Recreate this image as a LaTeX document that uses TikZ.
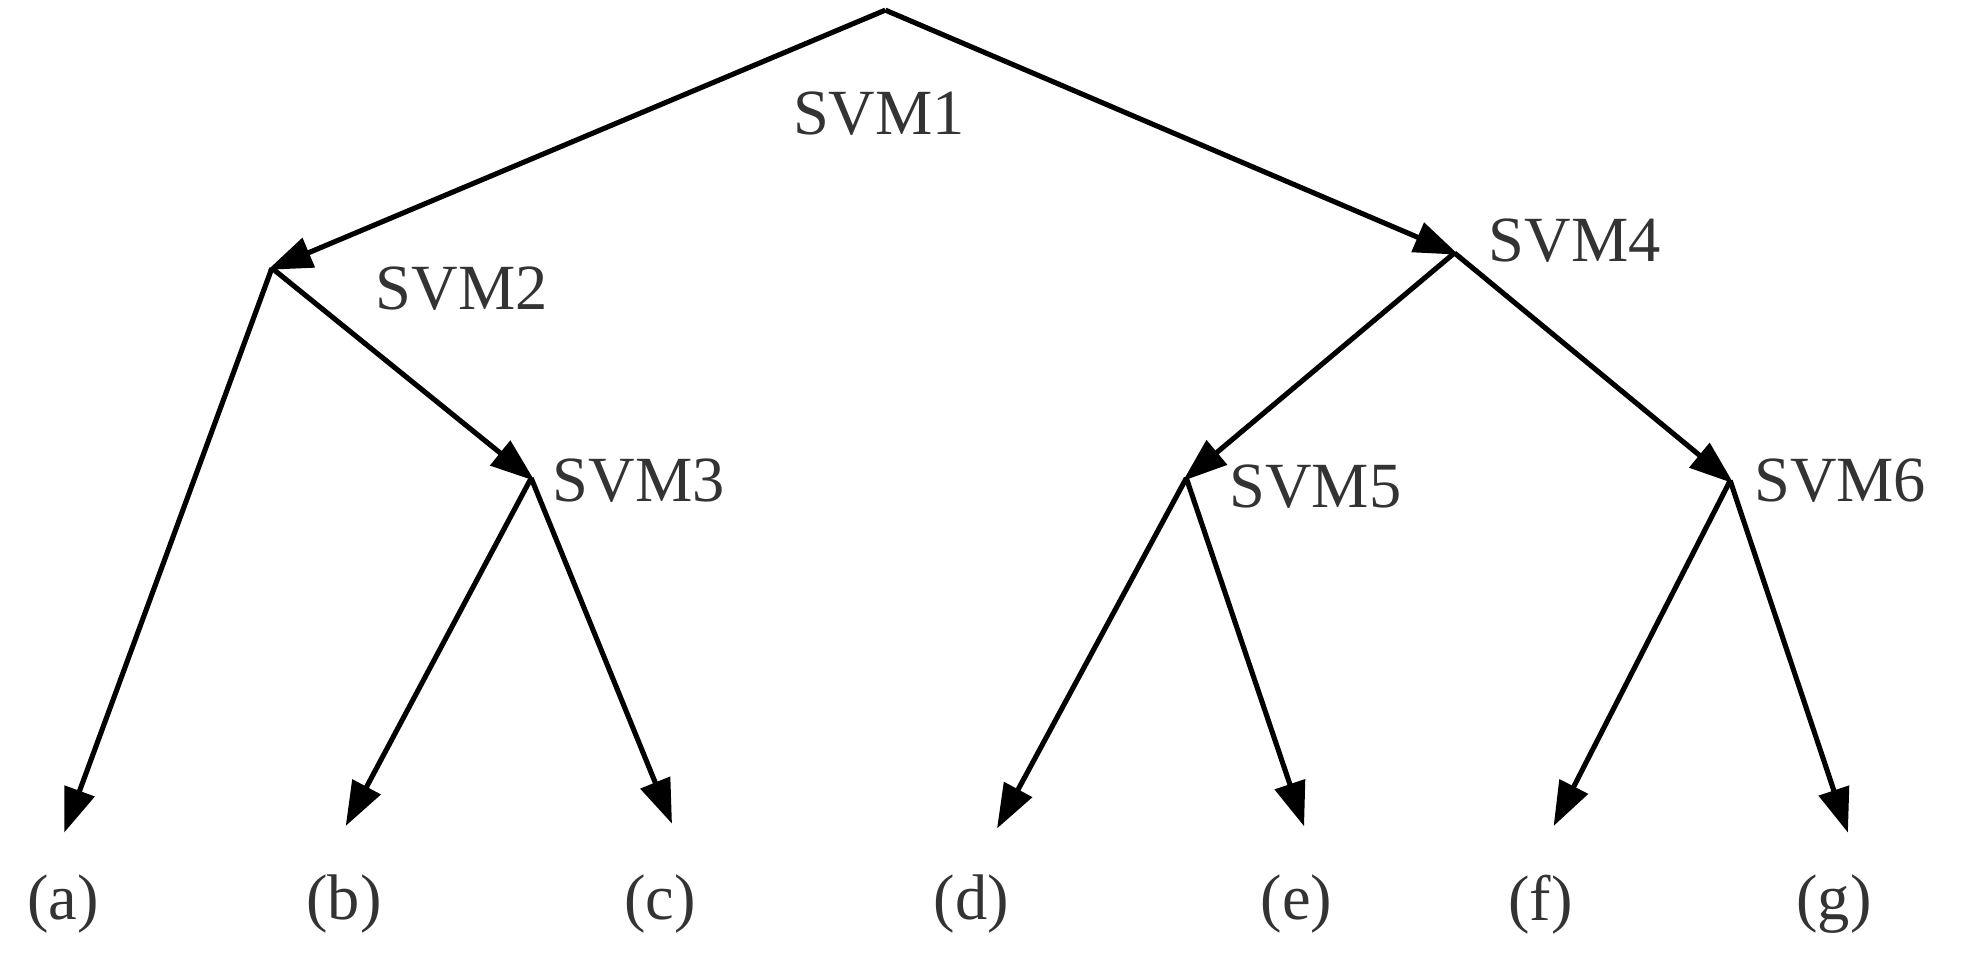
\documentclass[tikz,border=0pt]{standalone}
\usepackage{fontspec}
\setmainfont{Liberation Serif}
\usetikzlibrary{arrows.meta}
\begin{document}
\begin{tikzpicture}[x=0.02cm,y=-0.02cm,
  edge/.style={line width=2.3pt,-{Triangle[length=20pt,width=14pt]},shorten >=-2pt},
  lbl/.style={font=\fontsize{29}{34}\selectfont,text=black!80}]
\useasboundingbox (0,0) rectangle (1560,765);
\coordinate (r) at (700,8);
\coordinate (s2) at (215,212);
\coordinate (s4) at (1150,200);
\coordinate (s3) at (420,378);
\coordinate (s5) at (938,378);
\coordinate (s6) at (1368,380);
\coordinate (la) at (52,655);
\coordinate (lb) at (275,650);
\coordinate (lc) at (530,648);
\coordinate (ld) at (790,652);
\coordinate (le) at (1030,650);
\coordinate (lf) at (1230,650);
\coordinate (lg) at (1460,655);
\draw[edge] (r) -- (s2);
\draw[edge] (r) -- (s4);
\draw[edge] (s2) -- (la);
\draw[edge] (s2) -- (s3);
\draw[edge] (s3) -- (lb);
\draw[edge] (s3) -- (lc);
\draw[edge] (s4) -- (s5);
\draw[edge] (s4) -- (s6);
\draw[edge] (s5) -- (ld);
\draw[edge] (s5) -- (le);
\draw[edge] (s6) -- (lf);
\draw[edge] (s6) -- (lg);
\node[lbl] (t1) at (695,90) {SVM1};
\node[lbl] (t2) at (365,228) {SVM2};
\node[lbl] (t3) at (505,380) {SVM3};
\node[lbl] (t4) at (1245,190) {SVM4};
\node[lbl] (t5) at (1040,385) {SVM5};
\node[lbl] (t6) at (1455,380) {SVM6};
\node[lbl] (na) at (50,715) {(a)};
\node[lbl] (nb) at (272,715) {(b)};
\node[lbl] (nc) at (522,715) {(c)};
\node[lbl] (nd) at (768,715) {(d)};
\node[lbl] (ne) at (1025,715) {(e)};
\node[lbl] (nf) at (1218,715) {(f)};
\node[lbl] (ng) at (1450,715) {(g)};
\end{tikzpicture}
\end{document}
